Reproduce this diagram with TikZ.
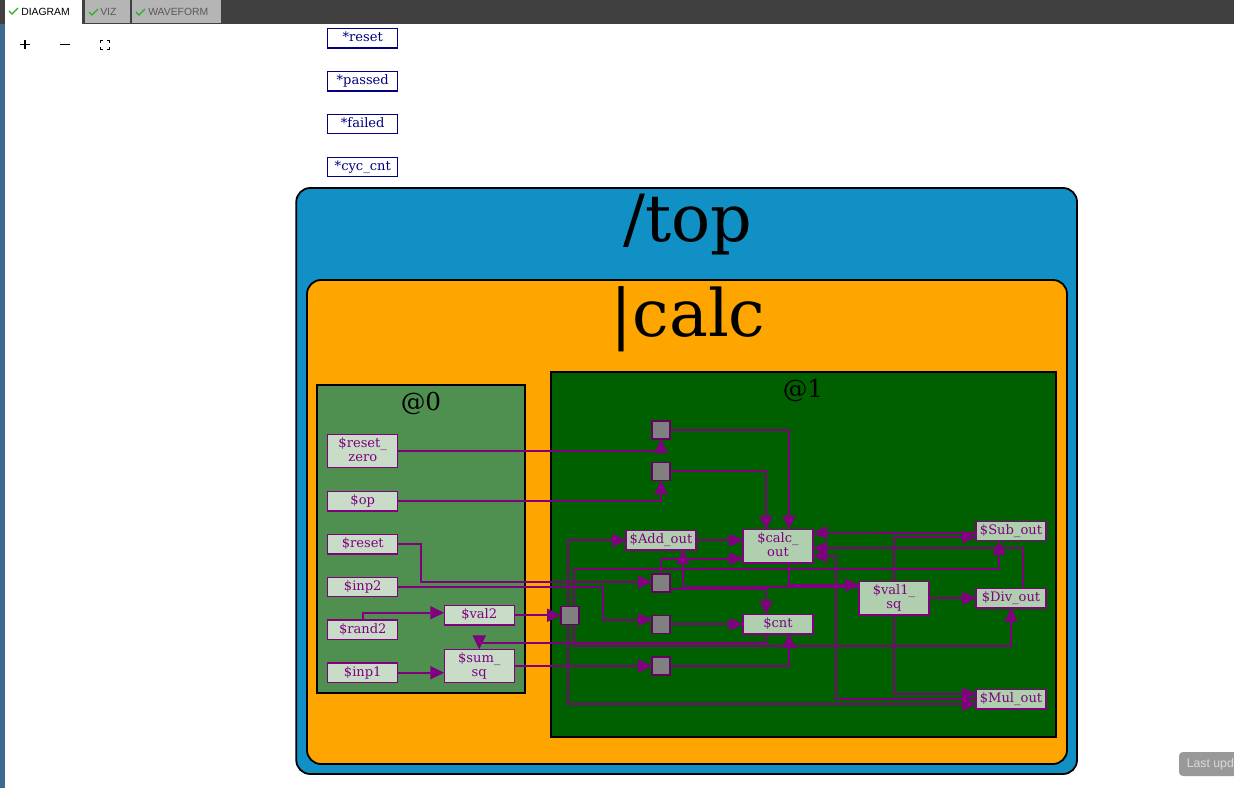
\documentclass[tikz,border=0pt]{standalone}
\usepackage{fontspec}
\setmainfont{DejaVu Serif}
\newfontfamily\uifont{Liberation Sans}
\usetikzlibrary{arrows.meta,calc}
\pgfdeclarelayer{back}
\pgfdeclarelayer{wires}
\pgfsetlayers{back,wires,main}
\definecolor{wire}{HTML}{800080}
\definecolor{navytxt}{HTML}{000080}
\definecolor{topblue}{HTML}{1090C4}
\definecolor{orangebg}{HTML}{FFA500}
\definecolor{stageA}{HTML}{4F8F50}
\definecolor{stageB}{HTML}{006000}
\definecolor{boxA}{HTML}{C8DCC8}
\definecolor{boxB}{HTML}{AFCFAF}
\definecolor{sqgray}{HTML}{808080}
\definecolor{barbg}{HTML}{404040}
\definecolor{tabgray}{HTML}{B5B5B5}
\definecolor{sideblue}{HTML}{3F6A90}
\definecolor{tickgreen}{HTML}{22B422}
\newcommand{\txttop}{\rule{0pt}{8pt}}
\newcommand{\txtbot}{\rule[-2.4pt]{0pt}{2.4pt}}
\tikzset{
  x=0.75pt,y=-0.75pt,
  base/.style={inner sep=0pt,outer sep=0pt,line width=1.05pt,align=center,
    font=\fontsize{9.8}{10.5}\selectfont,
    execute at begin node=\txttop,execute at end node=\txtbot},
  toplevel/.style={base,draw=navytxt,fill=white,text=navytxt,minimum width=52.5pt,minimum height=14.6pt},
  sigA/.style={base,draw=wire,fill=boxA,text=wire,minimum width=52.5pt,minimum height=14.6pt},
  sigAtall/.style={sigA,minimum height=25pt},
  sigB/.style={base,draw=wire,fill=boxB,text=wire,minimum width=52.5pt,minimum height=14.6pt},
  sigBtall/.style={sigB,minimum height=25pt},
  jun/.style={inner sep=0pt,outer sep=0pt,draw=wire!80!black,line width=1.05pt,fill=sqgray,minimum size=13.5pt},
  wirel/.style={draw=wire,line width=1.35pt},
  wirea/.style={wirel,-{Triangle[length=10.5pt,width=9.8pt]}},
  scopebox/.style={draw=black,line width=1.35pt,inner sep=0pt,outer sep=0pt},
  scopetext/.style={inner sep=0pt,text=black},
  tabtext/.style={inner sep=0pt,font=\uifont\fontsize{7.8}{9}\selectfont},
  tick/.style={draw=tickgreen,line width=1pt}
}
\begin{document}
\begin{tikzpicture}
\useasboundingbox (0,0) rectangle (1234,788);
\begin{pgfonlayer}{back}
\fill[white] (0,0) rectangle (1234,788);
\fill[sideblue] (0,24) rectangle (4.5,788);
\fill[barbg] (0,0) rectangle (1234,24);
\fill[white] (5,0) rectangle (82,24);
\fill[tabgray] (85,0) rectangle (130,23);
\fill[tabgray] (132,0) rectangle (220.5,23);
\draw[tick] (9,11) -- (12,14) -- (18,8);
\draw[tick] (89,12) -- (92,15) -- (98,9);
\draw[tick] (136,12) -- (139,15) -- (145,9);
\draw[black,line width=0.9pt] (20.25,44.25) -- (29.75,44.25) (25,39.75) -- (25,49.25);
\draw[black,line width=0.9pt] (60.25,44.25) -- (69.75,44.25);
\draw[black,line width=1pt] (100.25,43) -- (100.25,40.25) -- (103,40.25) (107,40.25) -- (109.75,40.25) -- (109.75,43)
  (109.75,47) -- (109.75,49.75) -- (107,49.75) (103,49.75) -- (100.25,49.75) -- (100.25,47);
\path[scopebox,fill=topblue,rounded corners=10.5pt] (296.25,188) rectangle (1077,774);
\path[scopebox,fill=orangebg,rounded corners=10.5pt] (307,280) rectangle (1067,764);
\path[scopebox,fill=stageA] (317.25,385) rectangle (524.75,693);
\path[scopebox,fill=stageB] (551,372) rectangle (1056.25,737);
\fill[black!40,rounded corners=3pt] (1179,752) rectangle (1240,776);
\end{pgfonlayer}
\node[tabtext,text=black,anchor=west] (tabdiagram) at (21,11.5) {DIAGRAM};
\node[tabtext,text=black!65,anchor=west] (tabviz) at (100,12) {VIZ};
\node[tabtext,text=black!65,anchor=west] (tabwave) at (148,12) {WAVEFORM};
\node[inner sep=0pt,anchor=west,text=white!85!black,font=\uifont\fontsize{9.2}{11}\selectfont] (lastupd) at (1186.5,764) {Last upd};
\node[scopetext,font=\fontsize{48.8}{50}\selectfont] (ltop) at (688,224.5) {/top};
\node[scopetext,font=\fontsize{49}{50}\selectfont] (lcalc) at (688,319.5) {|calc};
\node[scopetext,font=\fontsize{18.5}{20}\selectfont] (lzero) at (421,403) {@0};
\node[scopetext,font=\fontsize{18.5}{20}\selectfont] (lone) at (803,390) {@1};
% top-level signals
\node[toplevel] (treset) at (362.75,38.25) {*reset};
\node[toplevel] (tpassed) at (362.75,81.25) {*passed};
\node[toplevel] (tfailed) at (362.75,124) {*failed};
\node[toplevel] (tcyc) at (362.75,167) {*cyc\_cnt};
% stage 0
\node[sigAtall] (rz) at (362.75,451) {\$reset\_\\zero};
\node[sigA] (op) at (362.75,501.25) {\$op};
\node[sigA] (rst) at (362.75,544.25) {\$reset};
\node[sigA] (inp2) at (362.75,587) {\$inp2};
\node[sigA] (rand2) at (362.75,629.75) {\$rand2};
\node[sigA] (inp1) at (362.75,672.75) {\$inp1};
\node[sigA] (val2) at (479.25,615.25) {\$val2};
\node[sigAtall] (sumsq) at (479.25,666) {\$sum\_\\sq};
% stage 1
\node[sigB] (add) at (661,540.25) {\$Add\_out};
\node[sigBtall] (calc) at (778,546.25) {\$calc\_\\out};
\node[sigB] (cnt) at (778,624.25) {\$cnt};
\node[sigBtall] (val1) at (894,598.25) {\$val1\_\\sq};
\node[sigB] (sub) at (1011,531) {\$Sub\_out};
\node[sigB] (div) at (1011,598.25) {\$Div\_out};
\node[sigB] (mul) at (1011,699.25) {\$Mul\_out};
\node[jun] (ja) at (661,430) {};
\node[jun] (jb) at (661,471.25) {};
\node[jun] (jc) at (661,583) {};
\node[jun] (jd) at (661,624.25) {};
\node[jun] (je) at (661,666) {};
\node[jun] (jf) at (570,615.25) {};
\coordinate (jfL) at (567.75,615.25);
\coordinate (jfR) at (574,615.25);
\coordinate (busup) at (574,569);
\coordinate (busdn) at (574,646);
\coordinate (cntback) at (766,643);
\coordinate (rstbend) at (421,544.25);
\coordinate (inpbend) at (603,587);
\coordinate (mulbend) at (836,699.25);
\begin{pgfonlayer}{wires}
\draw[wirea] (rz.east) -| (ja.south);
\draw[wirea] (op.east) -| (jb.south);
\draw[wirea] (ja.east) -| ($(calc.north)+(11,0)$);
\draw[wirea] (jb.east) -| ($(calc.north)+(-12,0)$);
\draw[wirea] (rst.east) -- (rstbend) |- ($(jc.west)+(0,-1)$);
\draw[wirea] (inp2.east) -- (inpbend) |- ($(jd.west)+(0,-4.5)$);
\draw[wirea] (rand2.north) |- ($(val2.west)+(0,-2.5)$);
\draw[wirea] (val2.east) -- (jf.west);
\draw[wirea] (inp1.east) -- (sumsq.west |- inp1.east);
\draw[wirea] (sumsq.east) -- (je.west);
\draw[wirea] (jfL) |- (add.west);
\draw[wirea] (jfL) |- ($(mul.west)+(0,5)$);
\draw[wirea] (jfR) -- (busup) -| ($(sub.south)+(-12,0)$);
\draw[wirea] (jfR) -- (busdn) -| (div.south);
\draw[wirea] ($(cnt.south)+(-12,0)$) -- (cntback) -| (sumsq.north);
\draw[wirea] (add.east) -- (calc.west |- add.east);
\draw[wirea] (jc.north) |- ($(calc.west)+(0,12.5)$);
\draw[wirea] ($(jc.east)+(0,6)$) -| ($(cnt.north)+(-12,0)$);
\draw[wirea] ($(calc.south)+(11,0)$) |- ($(val1.west)+(0,-13.25)$);
\draw[wirel] ($(val1.west)+(0,-11.25)$) -- ($(add.south)+(22,36.75)$);
\draw[wirea] ($(add.south)+(22,36.75)$) -- ($(add.south)+(22,0)$);
\draw[wirea] (jd.east) -- (cnt.west |- jd.east);
\draw[wirea] (je.east) -| ($(cnt.south)+(11,0)$);
\draw[wirea] ($(sub.west)+(0,2)$) -- ($(calc.east)+(0,-13.5)$);
\draw[wirea] (val1.north) |- ($(sub.west)+(0,6)$);
\draw[wirea] ($(div.north)+(12,0)$) |- ($(calc.east)+(0,2)$);
\draw[wirea] (val1.east) -- (div.west);
\draw[wirea] (val1.south) |- ($(mul.west)+(0,-5.25)$);
\draw[wirea] (mul.west) -- (mulbend) |- ($(calc.east)+(0,9.75)$);
\end{pgfonlayer}
\end{tikzpicture}
\end{document}
